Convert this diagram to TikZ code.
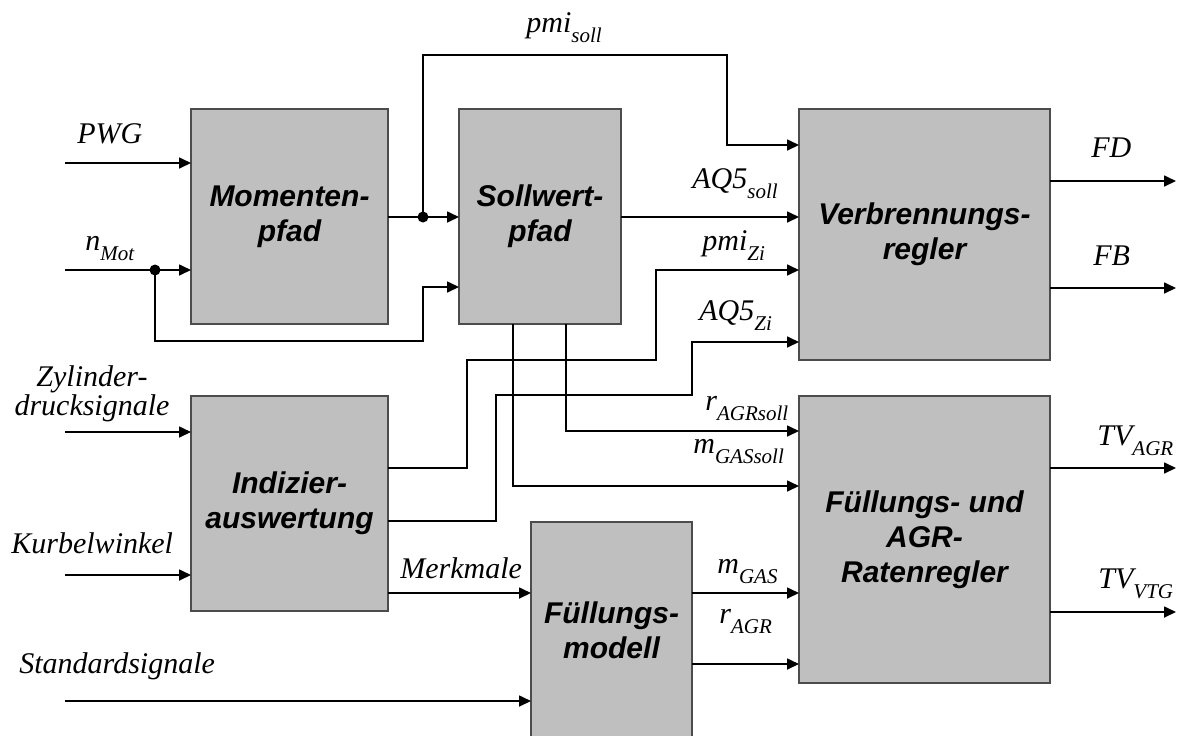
\documentclass[tikz,border=0pt]{standalone}
\usepackage{fontspec}
\setmainfont{Liberation Serif}
\newfontfamily\blockfont{Liberation Sans}
\usetikzlibrary{arrows.meta}
% signal name with a lowered, smaller index
\newcommand{\sgl}[2]{#1\raisebox{-5pt}{\fontsize{10.5}{10.5}\selectfont #2}}

\begin{document}
\begin{tikzpicture}[x=0.5pt,y=-0.5pt,
  block/.style={draw=black!70, line width=0.6pt, fill=black!25, inner sep=0pt, outer sep=0pt,
    align=center, font=\blockfont\bfseries\itshape\fontsize{15}{17.5}\selectfont},
  lbl/.style={inner sep=0pt, anchor=base west, font=\itshape\fontsize{15}{14.5}\selectfont},
  sig/.style={line width=0.85pt, -{Triangle[length=6pt,width=5.5pt]}},
  dot/.style={circle, fill=black, inner sep=0pt, minimum size=5.5pt}]

\useasboundingbox (0,0) rectangle (1178,735);

% blocks
\node[block, minimum width=98.5pt, minimum height=107.5pt] (mom)  at (289.5,216.5) {Momenten-\\pfad};
\node[block, minimum width=81pt,   minimum height=107.5pt] (soll) at (540,216.5)   {Sollwert-\\pfad};
\node[block, minimum width=125.5pt,minimum height=125.5pt] (verb) at (924.5,234.5) {Verbrennungs-\\regler};
\node[block, minimum width=98.5pt, minimum height=107.5pt] (ind)  at (289.5,503.5) {Indizier-\\auswertung};
\node[block, minimum width=80.5pt, minimum height=108pt]   (fm)   at (611.5,630)   {Füllungs-\\modell};
\node[block, minimum width=125.5pt,minimum height=143.5pt] (far)  at (924.5,539.5) {Füllungs- und\\AGR-\\Ratenregler};

% free ends
\coordinate (pwg)  at (65,163);
\coordinate (nmot) at (65,270);
\coordinate (zyl)  at (65,432);
\coordinate (kw)   at (65,575);
\coordinate (std)  at (65,701);
\coordinate (fd)   at (1176,181);
\coordinate (fb)   at (1176,288);
\coordinate (tva)  at (1176,468);
\coordinate (tvv)  at (1176,612);

% branch points
\node[dot] (jn) at (155,270) {};
\node[dot] (jm) at (423,217) {};

% inputs
\draw[sig] (pwg) -- (pwg -| mom.west);
\draw[sig] (nmot) -- (nmot -| mom.west);
\draw[sig] (jn.center) -- (155,341) -- (423,341) -- (423,287) -- (soll.west |- 0,287);
\draw[sig] (zyl) -- (zyl -| ind.west);
\draw[sig] (kw) -- (kw -| ind.west);
\draw[sig] (std) -- (std -| fm.west);

% Momentenpfad -> Sollwertpfad, pmi_soll
\draw[sig] (mom.east |- jm) -- (jm -| soll.west);
\draw[sig] (jm.center) -- (423,55) -- (727,55) -- (727,145) -- (verb.west |- 0,145);
\draw[sig] (soll.east |- 0,217) -- (verb.west |- 0,217);

% Indizierauswertung outputs
\draw[sig] (ind.east |- 0,468) -- (467,468) -- (467,360) -- (656,360) -- (656,270) -- (verb.west |- 0,270);
\draw[sig] (ind.east |- 0,521) -- (496,521) -- (496,395) -- (692,395) -- (692,342) -- (verb.west |- 0,342);
\draw[sig] (ind.east |- 0,593) -- (fm.west |- 0,593);

% Sollwertpfad setpoints
\draw[sig] (soll.south -| 566,0) -- (566,431) -- (far.west |- 0,431);
\draw[sig] (soll.south -| 513,0) -- (513,486) -- (far.west |- 0,486);

% Füllungsmodell outputs
\draw[sig] (fm.east |- 0,593) -- (far.west |- 0,593);
\draw[sig] (fm.east |- 0,664) -- (far.west |- 0,664);

% outputs
\draw[sig] (fd -| verb.east) -- (fd);
\draw[sig] (fb -| verb.east) -- (fb);
\draw[sig] (tva -| far.east) -- (tva);
\draw[sig] (tvv -| far.east) -- (tvv);

% signal labels
\node[lbl] (l_pmis) at (526,32)  {\sgl{pmi}{soll}};
\node[lbl] (l_pwg)  at (77,143)  {PWG};
\node[lbl] (l_nmot) at (85,250)  {\sgl{n}{Mot}};
\node[lbl] (l_aqs)  at (692,188) {\sgl{AQ5}{soll}};
\node[lbl] (l_pmiz) at (702,250) {\sgl{pmi}{Zi}};
\node[lbl] (l_aqz)  at (699,320) {\sgl{AQ5}{Zi}};
\node[lbl] (l_fd)   at (1091,157) {FD};
\node[lbl] (l_fb)   at (1093,265) {FB};
\node[lbl, anchor=base, align=center] (l_zyl) at (92,415) {Zylinder-\\drucksignale};
\node[lbl] (l_kw)   at (11,553)  {Kurbelwinkel};
\node[lbl] (l_mm)   at (400,578) {Merkmale};
\node[lbl] (l_std)  at (19,673)  {Standardsignale};
\node[lbl] (l_rs)   at (705,410) {\sgl{r}{AGRsoll}};
\node[lbl] (l_ms)   at (693,453) {\sgl{m}{GASsoll}};
\node[lbl] (l_mg)   at (717,573) {\sgl{m}{GAS}};
\node[lbl] (l_ra)   at (719,623) {\sgl{r}{AGR}};
\node[lbl] (l_tva)  at (1097,445) {\sgl{TV}{AGR}};
\node[lbl] (l_tvv)  at (1098,588) {\sgl{TV}{VTG}};
\end{tikzpicture}
\end{document}
